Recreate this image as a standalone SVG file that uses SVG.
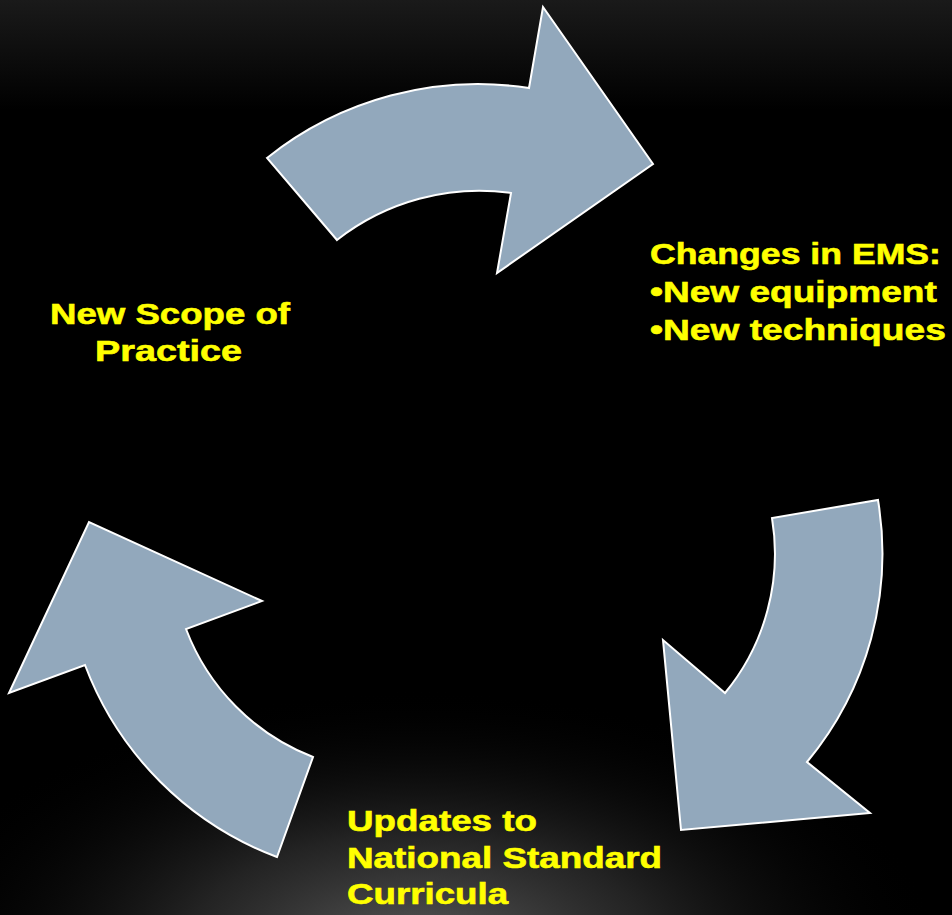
<svg xmlns="http://www.w3.org/2000/svg" width="952" height="915" viewBox="0 0 952 915">
  <defs>
    <linearGradient id="topShade" x1="0" y1="0" x2="0" y2="1">
      <stop offset="0" stop-color="#1a1a1a"/>
      <stop offset="0.12" stop-color="#000000"/>
      <stop offset="1" stop-color="#000000"/>
    </linearGradient>
    <radialGradient id="glow" cx="420" cy="950" r="520" gradientUnits="userSpaceOnUse" gradientTransform="translate(420 950) scale(1 0.5) translate(-420 -950)">
      <stop offset="0" stop-color="#5a5a5a" stop-opacity="1"/>
      <stop offset="0.45" stop-color="#2c2c2c" stop-opacity="0.8"/>
      <stop offset="1" stop-color="#000000" stop-opacity="0"/>
    </radialGradient>
    <style>
      .arrow { fill: #92A8BC; stroke: #FFFFFF; stroke-width: 2; stroke-linejoin: miter; }
      .lbl { font-family: "Liberation Sans", Arial, sans-serif; font-weight: bold; font-size: 30px; fill: #FFFF00; stroke: #FFFF00; stroke-width: 0.6px; }
    </style>
  </defs>

  <rect x="0" y="0" width="952" height="915" fill="url(#topShade)"/>
  <rect x="0" y="0" width="952" height="915" fill="url(#glow)"/>

  <g id="connectors">
    <path id="arrow-top" class="arrow" d="M 267,158 A 338 338 0 0 1 529,88 L 543,7 L 653,164 L 497,273 L 511,193 A 231 231 0 0 0 337,240 Z"/>
    <path id="arrow-right" class="arrow" d="M 878,500 A 326 326 0 0 1 807,762 L 870,813 L 681,830 L 663,640 L 725,693 A 219 219 0 0 0 772,518 Z"/>
    <path id="arrow-left" class="arrow" d="M 277,857 A 329 329 0 0 1 85,665 L 9,693 L 89,522 L 262,601 L 186,629 A 222 222 0 0 0 313,757 Z"/>
  </g>

  <g id="node-scope">
    <text class="lbl" transform="translate(50 324) scale(1.22 1)" textLength="196.7" lengthAdjust="spacingAndGlyphs">New Scope of</text>
    <text class="lbl" transform="translate(95 361) scale(1.22 1)" textLength="120.5" lengthAdjust="spacingAndGlyphs">Practice</text>
  </g>

  <g id="node-changes">
    <text class="lbl" transform="translate(650 264) scale(1.2 1)" textLength="242.5" lengthAdjust="spacingAndGlyphs">Changes in EMS:</text>
    <text class="lbl" transform="translate(650 302) scale(1.2 1)" textLength="239" lengthAdjust="spacingAndGlyphs">•New equipment</text>
    <text class="lbl" transform="translate(650 340) scale(1.2 1)" textLength="246.5" lengthAdjust="spacingAndGlyphs">•New techniques</text>
  </g>

  <g id="node-updates">
    <text class="lbl" transform="translate(347 831) scale(1.22 1)" textLength="155.7" lengthAdjust="spacingAndGlyphs">Updates to</text>
    <text class="lbl" transform="translate(347 868) scale(1.22 1)" textLength="258.2" lengthAdjust="spacingAndGlyphs">National Standard</text>
    <text class="lbl" transform="translate(347 904) scale(1.22 1)" textLength="132" lengthAdjust="spacingAndGlyphs">Curricula</text>
  </g>
</svg>
